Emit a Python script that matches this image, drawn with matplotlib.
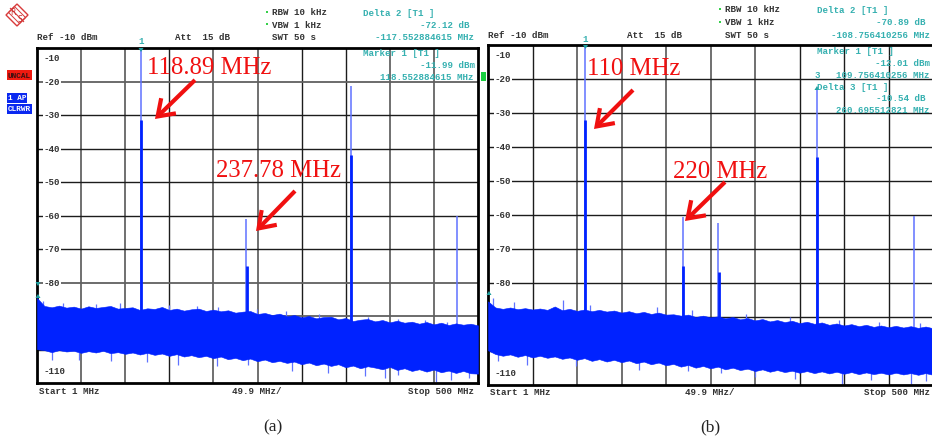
import numpy as np
import matplotlib
matplotlib.use("Agg")
import matplotlib.pyplot as plt
from matplotlib.patches import Polygon, Rectangle

# ---------- data ----------
db_ticks = [-10, -20, -30, -40, -50, -60, -70, -80, -90, -100, -110]
tick_labels = ["-10", "-20", "-30", "-40", "-50", "-60", "-70", "-80", "-110"]
tick_values = [-10, -20, -30, -40, -50, -60, -70, -80, -110]

# spurs: frequency (MHz), tip of thin line, tip of thick part
a_thin_f = [118.89, 237.3, 356.3, 476.2]
a_thin_db = [-10.5, -60.9, -21.2, -60.2]
a_thick_f = [118.89, 238.6, 356.3]
a_thick_db = [-31.6, -75.0, -41.8]

b_thin_f = [110.0, 220.0, 258.8, 369.5, 478.5]
b_thin_db = [-10.5, -60.6, -62.3, -22.6, -60.2]
b_thick_f = [110.0, 219.6, 260.0, 369.5]
b_thick_db = [-32.0, -75.0, -76.8, -42.9]

# noise envelope in dB, sampled evenly from 1 to 500 MHz
a_top = [-84.6, -87.0, -87.4, -86.9, -87.5, -87.2, -87.8, -87.1, -87.6, -87.3,
         -87.0, -87.8, -87.6, -87.4, -88.2, -87.7, -87.9, -87.3, -88.2, -87.8,
         -88.4, -88.0, -87.8, -88.5, -88.1, -88.6, -88.3, -89.0, -88.7, -88.5,
         -89.4, -89.1, -89.7, -89.3, -90.1, -89.7, -90.4, -90.0, -90.7, -90.3,
         -90.2, -91.0, -90.6, -91.5, -91.1, -90.9, -91.6, -91.2, -91.9, -91.4,
         -92.0, -91.7, -92.3, -91.8, -92.5, -92.0, -92.7, -92.2, -92.6, -92.3,
         -92.8]
a_bot = [-99.9, -100.2, -100.8, -100.2, -100.6, -100.4, -101.0, -100.5, -100.9, -100.4,
         -101.1, -100.8, -101.3, -100.9, -101.5, -101.0, -101.6, -101.2, -101.9, -101.4,
         -102.1, -101.7, -102.3, -101.9, -102.6, -102.1, -102.9, -102.5, -103.2, -102.7,
         -103.5, -103.0, -103.8, -103.4, -104.0, -103.6, -104.4, -103.9, -104.7, -104.2,
         -104.9, -104.4, -105.3, -104.8, -105.6, -105.0, -105.4, -105.9, -105.2, -106.1,
         -105.6, -106.4, -105.9, -106.6, -106.0, -106.8, -106.3, -107.0, -106.4, -107.1,
         -107.2]

b_top = [-85.4, -87.2, -87.6, -87.2, -87.7, -87.4, -87.8, -87.5, -87.9, -86.9,
         -88.0, -87.6, -88.2, -87.8, -88.3, -87.9, -88.4, -88.1, -88.7, -88.3,
         -88.9, -88.5, -89.1, -88.7, -89.3, -89.2, -89.6, -89.3, -90.0, -89.6,
         -90.1, -89.8, -90.4, -90.0, -90.7, -90.3, -91.0, -90.6, -91.3, -90.9,
         -91.5, -91.1, -91.8, -91.4, -92.0, -91.6, -92.3, -91.9, -92.5, -92.1,
         -92.7, -92.3, -92.9, -92.5, -93.0, -92.6, -93.1, -92.7, -93.2, -92.8,
         -93.3]
b_bot = [-99.8, -100.9, -101.4, -101.0, -101.7, -101.2, -101.9, -101.4, -102.0, -101.6,
         -102.3, -101.9, -102.6, -102.1, -102.9, -102.4, -103.1, -102.6, -103.3, -102.8,
         -103.6, -103.1, -103.9, -103.4, -104.2, -103.8, -104.6, -104.1, -104.9, -104.4,
         -105.1, -104.6, -105.4, -104.9, -105.6, -105.2, -105.9, -105.4, -106.1, -105.6,
         -106.2, -105.8, -106.4, -105.9, -106.5, -106.0, -106.6, -106.1, -106.7, -106.2,
         -106.8, -106.3, -106.8, -106.4, -106.9, -106.4, -106.9, -106.5, -107.0, -106.5,
         -107.0]

# lighter spikes poking out of the noise band (below, then above)
a_dip_f = [18, 48, 85, 126, 160, 205, 240, 290, 330, 372, 395, 410, 452, 470, 490]
a_dip_db = [-103.0, -103.2, -103.3, -103.8, -104.5, -105.0, -104.6, -106.4, -107.0,
            -108.0, -108.5, -107.6, -109.8, -109.2, -108.4]
b_dip_f = [12, 45, 100, 170, 225, 262, 300, 345, 398, 430, 475, 492]
b_dip_db = [-102.8, -104.0, -104.4, -105.5, -106.0, -106.5, -107.6, -108.2, -109.8,
            -108.6, -109.6, -108.8]
a_peak_f = [8, 30, 68, 95, 150, 182, 206, 250, 283, 320, 375, 410, 440, 465]
a_peak_db = [-85.5, -86.0, -86.3, -86.2, -86.6, -87.0, -87.2, -87.9, -88.6, -89.5,
             -90.2, -90.9, -91.1, -91.8]
b_peak_f = [7, 30, 85, 115, 190, 230, 290, 340, 395, 440, 485]
b_peak_db = [-84.5, -85.7, -84.9, -86.6, -87.2, -87.8, -89.0, -90.1, -90.9, -91.5, -91.9]

BLUE = "#0022ff"
LIGHT = "#5f72ff"
TEAL = "#35b0b0"
DARK = "#333333"
RED = "#f01010"
W, H = 932, 439


def make_axes(left, right, top, bottom, grey_v, grey_h):
    ax = fig.add_axes([left / W, 1 - bottom / H, (right - left) / W, (bottom - top) / H])
    ax.set_xlim(1, 500)
    ax.set_ylim(-110, -10)
    ax.set_xticks(np.linspace(1, 500, 11)[1:-1])
    ax.set_yticks(db_ticks[1:-1])
    ax.tick_params(length=0, labelbottom=False, labelleft=False)
    ax.grid(True, color="#1c1c1c", lw=1.0)
    for i in grey_v:
        ax.get_xgridlines()[i].set(color="#707070", lw=1.4)
    for i in grey_h:
        ax.get_ygridlines()[i].set(color="#606060", lw=1.3)
    ax.set_axisbelow(True)
    for s in ax.spines.values():
        s.set_linewidth(2.0)
        s.set_color("black")
    return ax


def draw_panel(ax, top, bot, thin_f, thin_db, thick_f, thick_db, dip_f, dip_db, peak_f, peak_db):
    f = np.linspace(1, 500, len(top))
    ax.vlines(dip_f, -95, dip_db, color=LIGHT, lw=0.9, zorder=2)
    ax.vlines(peak_f, -95, peak_db, color=LIGHT, lw=0.9, zorder=2)
    ax.vlines(thin_f, -95, thin_db, color=LIGHT, lw=1.1, zorder=2)
    ax.vlines(thick_f, -95, thick_db, color=BLUE, lw=2.0, zorder=3)
    ax.fill_between(f, bot, top, color=BLUE, lw=0.4, zorder=4)
    for lab, v in zip(tick_labels, tick_values):
        ax.annotate(lab, (0, v), xytext=(5, -7 if v == -10 else (9 if v == -110 else 0)),
                    textcoords="offset points",
                    xycoords=("axes fraction", "data"), fontsize=6.6,
                    family="Liberation Mono", weight="bold", color=DARK, va="center",
                    bbox=dict(fc="white", ec="none", pad=0.4), zorder=1.5)


fig = plt.figure(figsize=(W / 100, H / 100), dpi=100)
ax_a = make_axes(37, 478, 49, 384, [0, 1, 3, 4, 7, 8], [0, 6, 7])
ax_b = make_axes(488, 933, 46, 386, [1, 2, 3, 4, 5], [])
draw_panel(ax_a, a_top, a_bot, a_thin_f, a_thin_db, a_thick_f, a_thick_db,
           a_dip_f, a_dip_db, a_peak_f, a_peak_db)
draw_panel(ax_b, b_top, b_bot, b_thin_f, b_thin_db, b_thick_f, b_thick_db,
           b_dip_f, b_dip_db, b_peak_f, b_peak_db)

# overlay in pixel coordinates for the instrument read-outs
ov = fig.add_axes([0, 0, 1, 1], zorder=10)
ov.set_xlim(0, W)
ov.set_ylim(H, 0)
ov.axis("off")
ov.patch.set_alpha(0)


def mono(x, y, s, color=DARK, ha="left", size=6.6):
    ov.text(x, y, s, color=color, ha=ha, va="center", fontsize=size,
            family="Liberation Mono", weight="bold")


mono(37, 37, "Ref -10 dBm")
mono(175, 37, "Att  15 dB")
mono(272, 37, "SWT 50 s")
mono(272, 12.5, "RBW 10 kHz")
mono(272, 25, "VBW 1 kHz")
mono(363, 13, "Delta 2 [T1 ]", TEAL)
mono(470, 25, "-72.12 dB", TEAL, "right")
mono(474, 37, "-117.552884615 MHz", TEAL, "right")
mono(363, 53, "Marker 1 [T1 ]", TEAL)
mono(475, 65, "-11.99 dBm", TEAL, "right")
mono(474, 77, "118.552884615 MHz", TEAL, "right")
mono(39, 392, "Start 1 MHz")
mono(232, 392, "49.9 MHz/")
mono(474, 392, "Stop 500 MHz", ha="right")

mono(488, 35, "Ref -10 dBm")
mono(627, 35, "Att  15 dB")
mono(725, 35, "SWT 50 s")
mono(725, 9.5, "RBW 10 kHz")
mono(725, 22.5, "VBW 1 kHz")
mono(817, 10.5, "Delta 2 [T1 ]", TEAL)
mono(925, 22.5, "-70.89 dB", TEAL, "right")
mono(930, 35, "-108.756410256 MHz", TEAL, "right")
mono(817, 51, "Marker 1 [T1 ]", TEAL)
mono(930, 63, "-12.01 dBm", TEAL, "right")
mono(930, 75, "109.756410256 MHz", TEAL, "right")
mono(817, 87, "Delta 3 [T1 ]", TEAL)
mono(925, 99, "-10.54 dB", TEAL, "right")
mono(930, 111, "260.695512821 MHz", TEAL, "right")
mono(490, 393, "Start 1 MHz")
mono(685, 393, "49.9 MHz/")
mono(930, 393, "Stop 500 MHz", ha="right")

# marker flags
mono(141.5, 42, "1", TEAL, "center")
mono(585.5, 39, "1", TEAL, "center")
mono(817, 76, "3", TEAL, "center")
for x, y, d in [(141, 51, 1), (585.5, 48, 1), (817, 89, -1), (38, 297, -1), (489, 294, -1), (38, 285, 1)]:
    ov.add_patch(Polygon([(x - 2.5, y - d * 2), (x + 2.5, y - d * 2), (x, y + d * 2)],
                         color="#1d9f9f", lw=0))
for x, y in [(266.5, 12.5), (266.5, 25), (719.5, 9.5), (719.5, 22.5)]:
    ov.add_patch(Rectangle((x - 1, y - 1), 2, 2, color="#35d04a", lw=0))

# side badges
ov.add_patch(Rectangle((7, 71), 25, 10, color="#f01a10", lw=0))
mono(19.5, 76, "UNCAL", "#3a1010", "center", 5.6)
ov.add_patch(Rectangle((7, 94), 20, 10, color="#0a28f0", lw=0))
mono(17, 99, "1 AP", "white", "center", 5.6)
ov.add_patch(Rectangle((7, 105), 25, 10, color="#0a28f0", lw=0))
mono(19.5, 110, "CLRWR", "white", "center", 5.6)
ov.add_patch(Rectangle((481, 73), 5, 9, color="#18d040", lw=0))

# logo
ov.add_patch(Polygon([(17, 5), (28, 16), (17, 27), (6, 16)], fc="none", ec="#d83a3a", lw=1.0))
ov.add_patch(Polygon([(8.5, 13.5), (14.5, 7.5), (25.5, 18.5), (19.5, 24.5)], fc="none", ec="#d83a3a", lw=0.7))
ov.add_patch(Polygon([(10, 9), (24, 23)], fc="none", ec="#d83a3a", lw=0.8, closed=False))
ov.text(13, 12.5, "R", color="#c83030", fontsize=5.5, ha="center", va="center")
ov.text(20, 19.5, "S", color="#c83030", fontsize=5.5, ha="center", va="center")

# red call-outs
for x, y, s in [(209, 68, "118.89 MHz"), (279, 171, "237.78 MHz"),
                (633.5, 69, "110 MHz"), (720, 172, "220 MHz")]:
    ov.text(x, y, s, color=RED, fontsize=17.8, family="Liberation Serif",
            ha="center", va="center")
for x0, y0, x1, y1 in [(195, 81, 155, 120), (295, 192, 256, 232),
                       (633, 91, 594, 130), (725, 183, 685, 222)]:
    ov.annotate("", xy=(x1, y1), xytext=(x0, y0),
                arrowprops=dict(arrowstyle="->,head_length=0.55,head_width=0.38", color=RED,
                                lw=3.0, mutation_scale=20, shrinkA=0, shrinkB=0,
                                joinstyle="miter", capstyle="butt"))

ov.text(273, 427, "(a)", fontsize=12.5, family="Liberation Serif", ha="center", va="center", color="#222222")
ov.text(710, 427, "(b)", fontsize=12.5, family="Liberation Serif", ha="center", va="center", color="#222222")

fig.savefig("out.png", dpi=100)
